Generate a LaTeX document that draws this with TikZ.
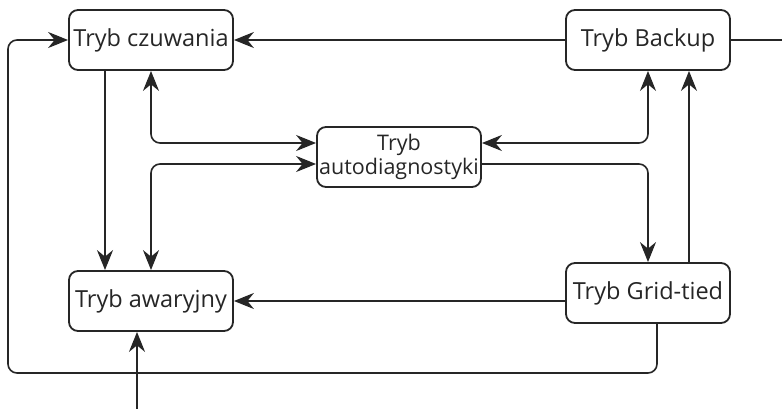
\documentclass[tikz,border=0pt]{standalone}
\usepackage{fontspec}
\setmainfont{Open Sans}
\usetikzlibrary{arrows.meta,calc}
\definecolor{ink}{HTML}{262626}
\tikzset{
  box/.style={draw=ink, line width=1.8pt, rounded corners=9pt, minimum width=164pt, minimum height=60pt, inner sep=0pt, text=ink, font=\fontsize{23.5}{27}\selectfont, align=center, fill=white},
  smallbox/.style={box, font=\fontsize{21.5}{24}\selectfont},
  con/.style={draw=ink, line width=1.6pt, rounded corners=9pt},
  tip/.style={-{Stealth[length=20pt,width=16pt,inset=6.5pt]}},
  tips/.style={{Stealth[length=20pt,width=16pt,inset=6.5pt]}-{Stealth[length=20pt,width=16pt,inset=6.5pt]}}
}
\begin{document}
\begin{tikzpicture}[x=1pt,y=-1pt]
\useasboundingbox (0,0) rectangle (782,409);
\node[box] (cz) at (151,40) {Tryb czuwania};
\node[box] (bk) at (648,40) {Tryb Backup};
\node[smallbox] (ad) at (399,157) {Tryb\\autodiagnostyki};
\node[box] (aw) at (151,301) {Tryb awaryjny};
\node[box] (gt) at (648,293) {Tryb Grid-tied};
\coordinate (bkout) at (782,40);
\coordinate (loopL) at (8,373);
\coordinate (bot) at (137,409);
% connectors
\draw[con,tip] (bk.west) -- (cz.east);
\draw[con] (bk.east) -- (bkout);
\draw[con,tip] ([xshift=9pt]gt.south) |- (loopL) |- (cz.west);
\draw[con,tip] ([xshift=-46pt]cz.south) -- ([xshift=-46pt]aw.north);
\draw[con,tips] (cz.south) |- ([yshift=14pt]ad.west);
\draw[con,tips] ([yshift=-7pt]ad.west) -| (aw.north);
\draw[con,tips] ([yshift=14pt]ad.east) -| (bk.south);
\draw[con,tip] ([yshift=-7pt]ad.east) -| (gt.north);
\draw[con,tip] ([xshift=41pt]gt.north) -- ([xshift=41pt]bk.south);
\draw[con,tip] (gt.west |- aw.east) -- (aw.east);
\draw[con,tip] (bot) -- ([xshift=-14pt]aw.south);
\end{tikzpicture}
\end{document}
